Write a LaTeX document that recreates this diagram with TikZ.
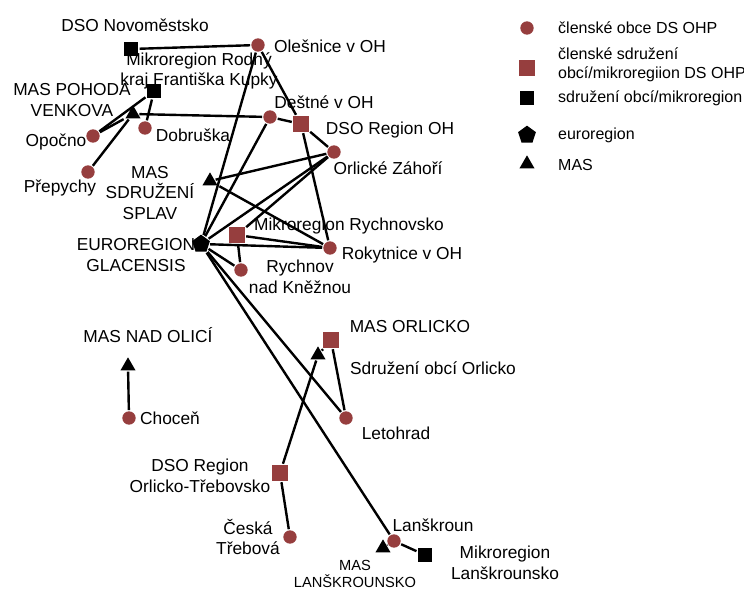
\documentclass[tikz,border=0pt]{standalone}
\usepackage{fontspec}
\setmainfont{Liberation Sans}
\usetikzlibrary{shapes.geometric}
\definecolor{ohp}{RGB}{150,62,62}

\begin{document}
\begin{tikzpicture}[x=0.75pt,y=-0.75pt,line width=1.8pt,
  member/.style={circle,fill=ohp,inner sep=0pt,minimum size=10pt},
  assoc/.style={rectangle,fill=ohp,inner sep=0pt,minimum size=12pt},
  micro/.style={rectangle,fill=black,inner sep=0pt,minimum size=11pt},
  euro/.style={regular polygon,regular polygon sides=5,fill=black,inner sep=0pt,minimum size=14pt},
  mas/.style={regular polygon,regular polygon sides=3,fill=black,inner sep=0pt,minimum size=13pt},
  lbl/.style={font=\fontsize{13}{15.5}\selectfont,align=center,inner sep=0pt},
  small lbl/.style={font=\fontsize{11}{13}\selectfont,align=center,inner sep=0pt},
  leg/.style={font=\fontsize{12}{14.5}\selectfont,align=left,inner sep=0pt,anchor=west}]

\useasboundingbox (0,0) rectangle (744,590);

% actors
\node[micro]  (nov)       at (131,49)  {};
\node[member] (oles)      at (258,45)  {};
\node[micro]  (rodny)     at (154,91)  {};
\node[mas]    (pohoda)    at (133,114) {};
\node[member] (opocno)    at (93,136)  {};
\node[member] (dobruska)  at (145,128) {};
\node[member] (prepychy)  at (88,172)  {};
\node[member] (destne)    at (270,117) {};
\node[assoc]  (dsooh)     at (301,124) {};
\node[member] (zahori)    at (334,152) {};
\node[mas]    (splav)     at (210,181) {};
\node[euro]   (glac)      at (201,244) {};
\node[assoc]  (rychsko)   at (237,235) {};
\node[member] (rokyt)     at (330,248) {};
\node[member] (rychnov)   at (241,270) {};
\node[assoc]  (sdruzorl)  at (331,340) {};
\node[mas]    (masorl)    at (318,355) {};
\node[member] (letohrad)  at (346,418) {};
\node[mas]    (nadolici)  at (128,366) {};
\node[member] (chocen)    at (129,418) {};
\node[assoc]  (trebovsko) at (280,473) {};
\node[member] (ceska)     at (290,537) {};
\node[member] (lanskroun) at (394,541) {};
\node[mas]    (maslan)    at (383,548) {};
\node[micro]  (mikrolan)  at (425,555) {};

% names
\node[lbl] (tnov)       at (135,25)  {DSO Novoměstsko};
\node[lbl] (toles)      at (330,46)  {Olešnice v OH};
\node[lbl] (trodny)     at (199,71)  {Mikroregion Rodný\\kraj Františka Kupky};
\node[lbl] (tpohoda)    at (72,100)  {MAS POHODA\\VENKOVA};
\node[lbl] (topocno)    at (56,142)  {Opočno};
\node[lbl] (tdobruska)  at (193,135) {Dobruška};
\node[lbl] (tprepychy)  at (60,188)  {Přepychy};
\node[lbl] (tdestne)    at (324,102) {Deštné v OH};
\node[lbl] (tdsooh)     at (390,130) {DSO Region OH};
\node[lbl] (tzahori)    at (388,168) {Orlické Záhoří};
\node[lbl] (tsplav)     at (150,193) {MAS\\SDRUŽENÍ\\SPLAV};
\node[lbl] (tglac)      at (136,255) {EUROREGION\\GLACENSIS};
\node[lbl] (trychsko)   at (349,226) {Mikroregion Rychnovsko};
\node[lbl] (trokyt)     at (402,255) {Rokytnice v OH};
\node[lbl] (trychnov)   at (300,277) {Rychnov\\nad Kněžnou};
\node[lbl] (tmasorl)    at (410,327) {MAS ORLICKO};
\node[lbl] (tsdruzorl)  at (433,368) {Sdružení obcí Orlicko};
\node[lbl] (tletohrad)  at (396,433) {Letohrad};
\node[lbl] (tnadolici)  at (148,335) {MAS NAD OLICÍ};
\node[lbl] (tchocen)    at (170,418) {Choceň};
\node[lbl] (ttrebovsko) at (200,476) {DSO Region\\Orlicko-Třebovsko};
\node[lbl] (tceska)     at (248,537) {Česká\\Třebová};
\node[lbl] (tlanskroun) at (433,525) {Lanškroun};
\node[small lbl] (tmaslan) at (355,574) {MAS\\LANŠKROUNSKO};
\node[lbl] (tmikrolan)  at (505,563) {Mikroregion\\Lanškrounsko};

\path
(nov) edge (oles)
(oles) edge (dsooh)
(oles) edge (glac)
(rodny) edge (opocno)
(rodny) edge (dobruska)
(pohoda) edge (opocno)
(pohoda) edge (prepychy)
(pohoda) edge (destne)
(destne) edge (dsooh)
(destne) edge (glac)
(dsooh) edge (zahori)
(dsooh) edge (rokyt)
(zahori) edge (splav)
(zahori) edge (glac)
(zahori) edge (rychsko)
(splav) edge (rokyt)
(glac) edge (rokyt)
(rychsko) edge (rokyt)
(rychsko) edge (rychnov)
(glac) edge (rychnov)
(glac) edge (letohrad)
(glac) edge (lanskroun)
(sdruzorl) edge (letohrad)
(masorl) edge (sdruzorl)
(trebovsko) edge (masorl)
(trebovsko) edge (ceska)
(chocen) edge (nadolici)
(lanskroun) edge (mikrolan)
(lanskroun) edge (maslan);

% legend
\node[member] (kmember) at (527,28)  {};
\node[assoc]  (kassoc)  at (527,68)  {};
\node[micro]  (kmicro)  at (527,98)  {};
\node[euro]   (keuro)   at (527,135) {};
\node[mas]    (kmas)    at (527,164) {};
\node[leg] (lmember) at (557,28)  {členské obce DS OHP};
\node[leg] (lassoc)  at (557,65)  {členské sdružení\\obcí/mikroregiion DS OHP};
\node[leg] (lmicro)  at (557,98)  {sdružení obcí/mikroregion};
\node[leg] (leuro)   at (557,135) {euroregion};
\node[leg] (lmas)    at (557,165) {MAS};

\end{tikzpicture}
\end{document}
